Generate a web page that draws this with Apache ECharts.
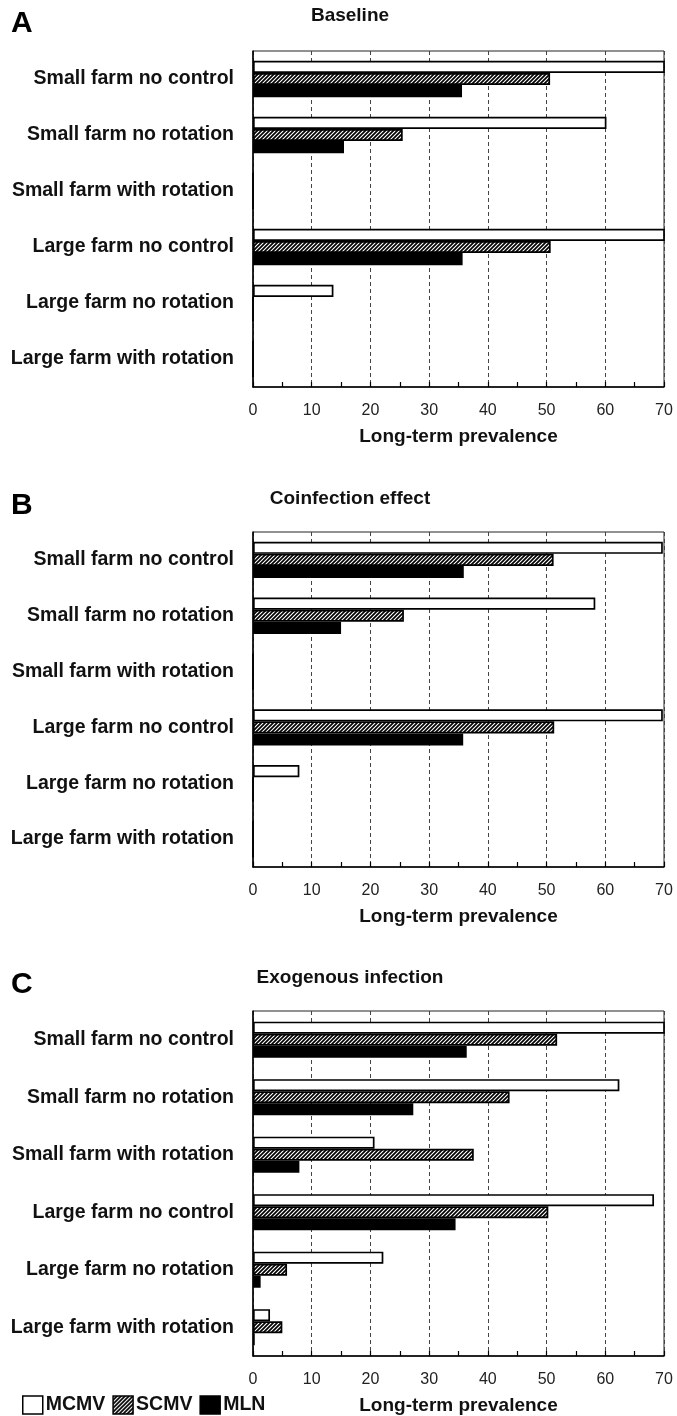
<!DOCTYPE html>
<html>
<head>
<meta charset="utf-8">
<script src="https://cdn.jsdelivr.net/npm/echarts@6/dist/echarts.min.js"></script>
<style>
html,body{margin:0;padding:0;background:#fff;}
#c{width:677px;height:1416px;}
</style>
</head>
<body>
<div id="c"></div>
<script>
const categories = ['Small farm no control','Small farm no rotation','Small farm with rotation','Large farm no control','Large farm no rotation','Large farm with rotation'];
const seriesNames = ['MCMV','SCMV','MLN'];
const xTicks = [0,10,20,30,40,50,60,70];
const panelLetters = ['A','B','C'];
const panelTitles = ['Baseline','Coinfection effect','Exogenous infection'];
const axisName = 'Long-term prevalence';

const baselineMCMV = [70.3, 60.2, 0, 70.3, 13.7, 0];
const baselineSCMV = [50.6, 25.5, 0, 50.7, 0, 0];
const baselineMLN  = [35.6, 15.5, 0, 35.7, 0, 0];

const coinfMCMV = [69.8, 58.3, 0, 69.8, 7.9, 0];
const coinfSCMV = [51.2, 25.7, 0, 51.3, 0, 0];
const coinfMLN  = [35.9, 15.0, 0, 35.8, 0, 0];

const exoMCMV = [70.2, 62.4, 20.7, 68.3, 22.2, 2.9];
const exoSCMV = [51.8, 43.7, 37.6, 50.3, 5.8, 5.0];
const exoMLN  = [36.4, 27.3, 7.9, 34.5, 1.3, 0.3];

const panels = [
  [baselineMCMV, baselineSCMV, baselineMLN],
  [coinfMCMV, coinfSCMV, coinfMLN],
  [exoMCMV, exoSCMV, exoMLN]
];

// hatch pattern
function makeHatch(){
  const s = 4;
  const cv = document.createElement('canvas');
  cv.width = s; cv.height = s;
  const ctx = cv.getContext('2d');
  ctx.fillStyle = '#fff';
  ctx.fillRect(0,0,s,s);
  ctx.strokeStyle = '#000';
  ctx.lineWidth = 1.7;
  ctx.beginPath();
  ctx.moveTo(0,s); ctx.lineTo(s,0);
  ctx.moveTo(-s/2,s/2); ctx.lineTo(s/2,-s/2);
  ctx.moveTo(s/2,s*1.5); ctx.lineTo(s*1.5,s/2);
  ctx.stroke();
  return cv;
}
const hatch = {image: makeHatch(), repeat: 'repeat'};
const fills = ['#ffffff', hatch, '#000000'];

const gridPos = [
  {top: 51, height: 336},
  {top: 532, height: 335},
  {top: 1011, height: 347}
];
const catGap = ['35%','35%','37%'];

const font = 'Liberation Sans, Arial, sans-serif';

const chart = echarts.init(document.getElementById('c'), null, {renderer:'canvas'});

const grids = [], xAxes = [], yAxes = [], series = [], titles = [];
gridPos.forEach((g, i) => {
  grids.push({left: 253, width: 411, top: g.top, height: g.height, show: true, borderColor: '#222', borderWidth: 1, containLabel: false});
  xAxes.push({
    type: 'value', gridIndex: i, min: xTicks[0], max: xTicks[xTicks.length-1], interval: xTicks[1]-xTicks[0],
    axisLine: {show: true, lineStyle: {color: '#000', width: 1.5}},
    axisTick: {show: true, inside: true, length: 5, lineStyle: {color: '#000', width: 1.2}},
    minorTick: {show: true, splitNumber: 2, length: 5, lineStyle: {color: '#000', width: 1.2}},
    splitLine: {show: true, lineStyle: {color: '#444', type: [4,3], width: 1}},
    axisLabel: {color: '#222', fontSize: 16, fontFamily: font, margin: 16},
    name: axisName, nameLocation: 'middle', nameGap: 40,
    nameTextStyle: {color: '#111', fontSize: 19, fontWeight: 'bold', fontFamily: font}
  });
  yAxes.push({
    type: 'category', gridIndex: i, data: categories, inverse: true,
    axisLine: {show: true, lineStyle: {color: '#000', width: 1.5}},
    axisTick: {show: false},
    axisLabel: {color: '#111', fontSize: 19.5, fontWeight: 'bold', fontFamily: font, margin: 19}
  });
  panels[i].forEach((vals, k) => {
    series.push({
      type: 'bar', name: seriesNames[k], xAxisIndex: i, yAxisIndex: i, data: vals,
      barGap: '0%', barCategoryGap: catGap[i],
      itemStyle: {color: fills[k], borderColor: '#000', borderWidth: 1.7},
      emphasis: {disabled: true}, animation: false
    });
  });
});

titles.push({text: 'A', left: 11, top: 9, padding: 0, textStyle: {fontSize: 30, fontWeight: 'bold', color: '#000', fontFamily: font}});
titles.push({text: 'B', left: 11, top: 491, padding: 0, textStyle: {fontSize: 30, fontWeight: 'bold', color: '#000', fontFamily: font}});
titles.push({text: 'C', left: 11, top: 970, padding: 0, textStyle: {fontSize: 30, fontWeight: 'bold', color: '#000', fontFamily: font}});
const titleTops = [6, 489, 968];
panelTitles.forEach((t, i) => {
  titles.push({text: t, left: 350, textAlign: 'center', top: titleTops[i], padding: 0, textStyle: {fontSize: 19, fontWeight: 'bold', color: '#111', fontFamily: font}});
});

chart.setOption({
  animation: false,
  backgroundColor: '#fff',
  title: titles,
  grid: grids,
  xAxis: xAxes,
  yAxis: yAxes,
  legend: {
    data: seriesNames, left: 22, top: 1395, padding: 0, itemGap: 7, itemWidth: 20, itemHeight: 18,
    icon: 'rect', selectedMode: false,
    textStyle: {fontSize: 19.5, fontWeight: 'bold', color: '#111', fontFamily: font, padding: [0,0,0,-2]},
    itemStyle: {borderColor: '#000', borderWidth: 1.5}
  },
  series: series
});
</script>
</body>
</html>
